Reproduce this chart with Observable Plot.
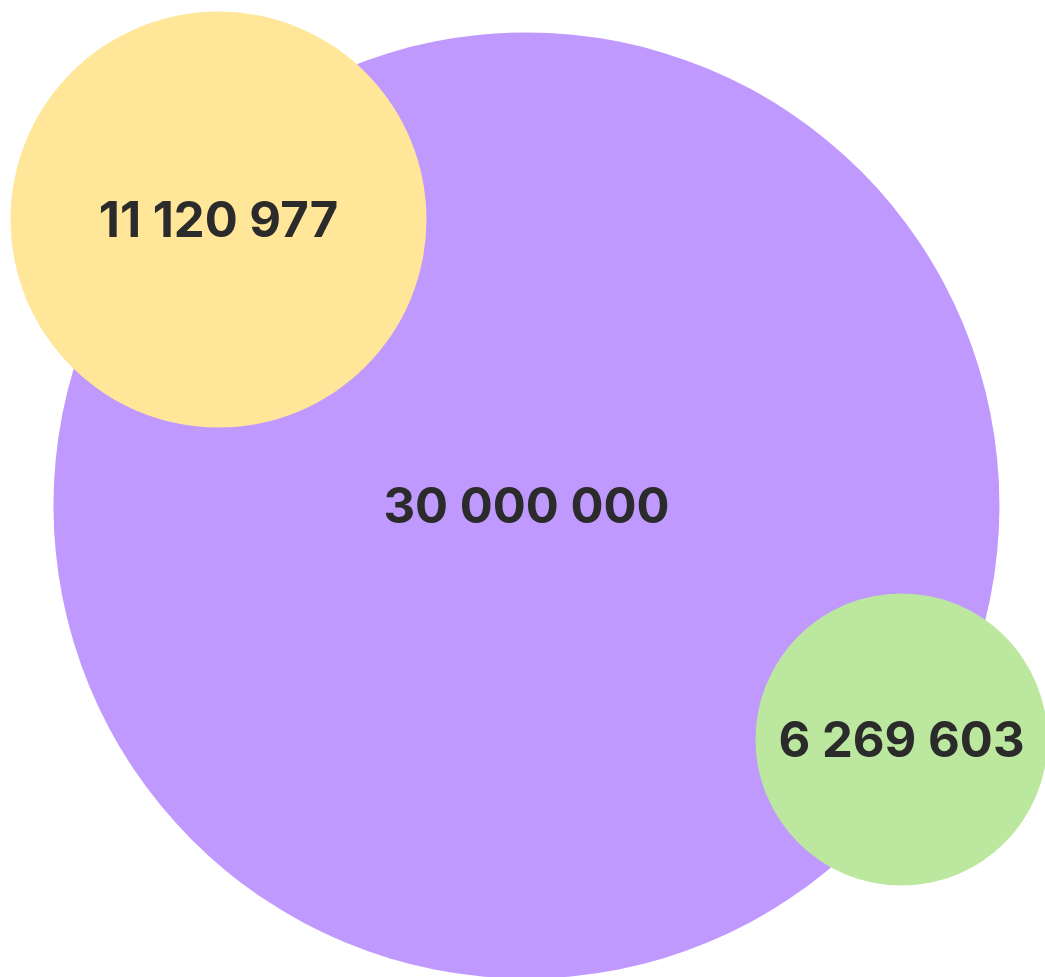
<!DOCTYPE html>
<html>
<head>
<meta charset="utf-8">
<script src="https://cdn.jsdelivr.net/npm/d3@7"></script>
<script src="https://cdn.jsdelivr.net/npm/@observablehq/plot@0.6"></script>
<style>
  html, body { margin: 0; padding: 0; background: #fff; }
  #chart svg { display: block; }
</style>
</head>
<body>
<div id="chart"></div>
<script>
// Data
const categories = ["total", "groupA", "groupB"];
const values = [30000000, 11120977, 6269603];
// Bubble layout (normalized position of each bubble centre, 0..1 of the frame)
const layoutX = [0.5033, 0.2086, 0.8622];
const layoutY = [0.5169, 0.2242, 0.7564];
const colors = ["#c099fe", "#ffe699", "#bbe89e"];

const W = 1045, H = 977;
const data = categories.map((c, i) => ({
  category: c,
  value: values[i],
  x: layoutX[i],
  y: layoutY[i]
}));

const fmt = d3.formatLocale({decimal: ",", thousands: " ", grouping: [3], currency: ["", ""]}).format(",d");

const chart = Plot.plot({
  width: W,
  height: H,
  margin: 0,
  x: {domain: [0, 1], range: [0, W], axis: null},
  y: {domain: [0, 1], range: [0, H], axis: null},
  r: {type: "linear", domain: [6269603, 11120977, 30000000], range: [146, 208, 473]},
  color: {domain: categories, range: colors},
  style: {background: "#fff", overflow: "hidden"},
  marks: [
    Plot.dot(data, {x: "x", y: "y", r: "value", fill: "category", fillOpacity: 1, stroke: null}),
    Plot.text(data, {
      x: "x", y: "y", dy: 2, text: d => fmt(d.value),
      fill: "#2b2b2b", fontSize: 49, fontWeight: 700,
      fontFamily: "Inter, 'Noto Sans', sans-serif"
    })
  ]
});
document.getElementById("chart").appendChild(chart);
</script>
</body>
</html>
